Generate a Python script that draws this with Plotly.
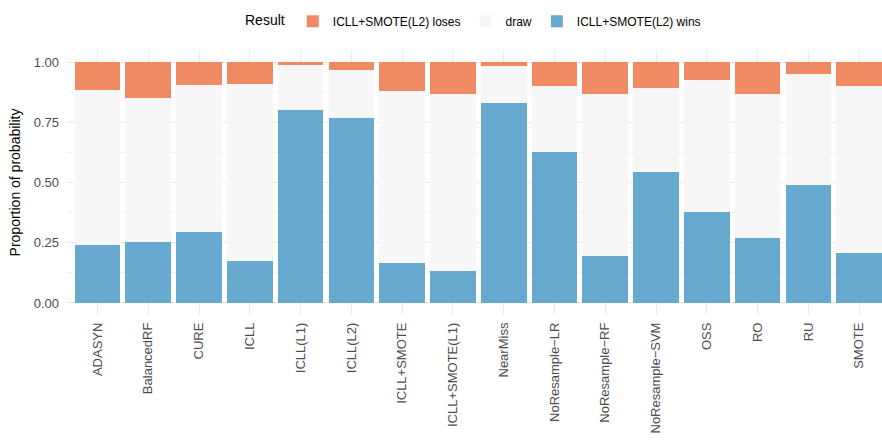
import plotly.graph_objects as go

categories = ["ADASYN", "BalancedRF", "CURE", "ICLL", "ICLL(L1)", "ICLL(L2)", "ICLL+SMOTE",
              "ICLL+SMOTE(L1)", "NearMiss", "NoResample\u2212LR", "NoResample\u2212RF",
              "NoResample\u2212SVM", "OSS", "RO", "RU", "SMOTE"]
wins = [0.242, 0.254, 0.296, 0.175, 0.802, 0.769, 0.167, 0.134, 0.831, 0.628, 0.196,
        0.545, 0.379, 0.271, 0.491, 0.209]
loses = [0.115, 0.148, 0.094, 0.090, 0.011, 0.032, 0.119, 0.131, 0.015, 0.098, 0.131,
         0.106, 0.073, 0.131, 0.049, 0.098]
draw = [round(1 - w - l, 3) for w, l in zip(wins, loses)]

series_names = ["ICLL+SMOTE(L2) wins", "draw", "ICLL+SMOTE(L2) loses"]
colors = ["#67A9CF", "#F7F7F7", "#EF8A62"]

fig = go.Figure()
for name, vals, col, rank in zip(series_names, [wins, draw, loses], colors, [3, 2, 1]):
    fig.add_trace(go.Bar(x=categories, y=vals, name=name, marker=dict(color=col, line=dict(width=0)),
                         legendrank=rank))

fig.update_layout(
    barmode="stack", bargap=0.1,
    width=882, height=448,
    margin=dict(l=67, r=0, t=50, b=133, autoexpand=False),
    paper_bgcolor="white", plot_bgcolor="white",
    font=dict(family="Liberation Sans, Arial, sans-serif", color="#4D4D4D", size=13),
    legend=dict(orientation="h", x=0.5, xanchor="center", y=0.985, yanchor="top",
                yref="container", title=dict(text="Result", font=dict(color="black", size=14)),
                font=dict(color="black", size=12), traceorder="normal", itemwidth=30),
    xaxis=dict(range=[-0.6, 15.45], tickangle=-90, showgrid=True, gridcolor="#EBEBEB", gridwidth=1,
               zeroline=False, showline=False, ticks="", tickfont=dict(size=13, color="#4D4D4D"),
               ticklabelstandoff=4),
    yaxis=dict(range=[-0.05, 1.05], tickvals=[0, 0.25, 0.5, 0.75, 1.0],
               ticktext=["0.00", "0.25", "0.50", "0.75", "1.00"],
               showgrid=True, gridcolor="#EBEBEB", gridwidth=1.1, zeroline=False, showline=False,
               ticks="", tickfont=dict(size=13, color="#4D4D4D"), ticklabelstandoff=7,
               minor=dict(tickvals=[0.125, 0.375, 0.625, 0.875], showgrid=True,
                          gridcolor="#F2F2F2", gridwidth=0.6),
               title=dict(text="Proportion of probability", font=dict(size=14, color="black"),
                          standoff=9)),
)

fig.write_html("out.html", config={"displayModeBar": False},
               post_script="document.body.style.margin='0';")
